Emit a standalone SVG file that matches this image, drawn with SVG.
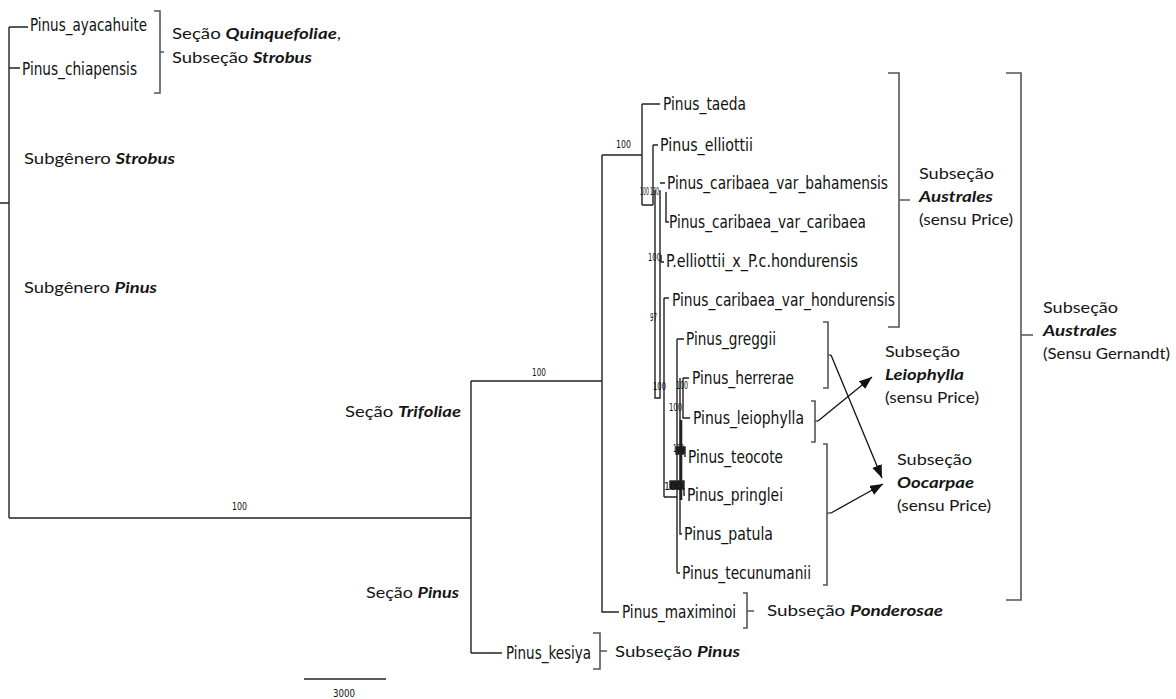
<svg xmlns="http://www.w3.org/2000/svg" width="1176" height="699" viewBox="0 0 1176 699">
<defs>
<style>
.tx{font-family:"DejaVu Sans Condensed","DejaVu Sans","Liberation Sans",sans-serif;font-stretch:condensed;font-size:17px;fill:#111}
.an{font-family:Lato,"Liberation Sans",sans-serif;font-size:16px;fill:#161616}
.bi{font-weight:bold;font-style:italic}
.bs{font-family:"DejaVu Sans Condensed","DejaVu Sans",sans-serif;font-size:10.5px;fill:#111}
.br{fill:none;stroke:#555;stroke-width:1.6}
.ln{fill:none;stroke:#222;stroke-width:1.4}
.ar{fill:none;stroke:#111;stroke-width:1.3}
</style>
<marker id="ah" markerUnits="userSpaceOnUse" markerWidth="14" markerHeight="12" refX="13" refY="5" orient="auto">
<path d="M0,0 L13,5 L0,10 Z" fill="#111"/>
</marker>
</defs>
<rect width="1176" height="699" fill="#fff"/>

<!-- tree branches -->
<g id="connectors" class="ln">
<path d="M0 203 H9 M9 27 V518 M9 27 H28 M9 68 H20 M9 518 H471"/>
<path d="M471 381 V653 M471 381 H602 M471 653 H502"/>
<path d="M602 155 V612 H619 M602 155 H642"/>
<path d="M642 104 V205 M642 104 H660 M642 205 H653"/>
<path d="M653 145 V205 M653 145 H658"/>
<path d="M655 190 V398 H660 V190 M660 183 H665 M666 192 V222 H669"/>
<path d="M661 255 V262 H664 M664 298 V497 M664 298 H669"/>
<path d="M664 497 H677 M677 339 V573 M677 339 H684 M677 573 H680"/>
<path d="M680 378 V534 H682 M683 378 H689 M683 378 V418 H690"/>
<path d="M684 456 H686 M684 488 V495 H685"/>
<path d="M681 420 V500" stroke-width="2.6"/>
<rect x="676" y="447" width="9" height="7" fill="#222"/>
<rect x="670" y="481" width="14" height="8" fill="#222"/>
</g>

<!-- bootstrap values -->
<g id="support">
<text class="bs" x="232" y="510" textLength="15" lengthAdjust="spacingAndGlyphs">100</text>
<text class="bs" x="532" y="376" textLength="14" lengthAdjust="spacingAndGlyphs">100</text>
<text class="bs" x="616" y="148" textLength="15" lengthAdjust="spacingAndGlyphs">100</text>
<text class="bs" x="640" y="195" textLength="9" lengthAdjust="spacingAndGlyphs">100</text>
<text class="bs" x="650" y="195" textLength="9" lengthAdjust="spacingAndGlyphs">100</text>
<text class="bs" x="648" y="261" textLength="13" lengthAdjust="spacingAndGlyphs">100</text>
<text class="bs" x="650" y="321" textLength="7" lengthAdjust="spacingAndGlyphs">97</text>
<text class="bs" x="653" y="390" textLength="13" lengthAdjust="spacingAndGlyphs">100</text>
<text class="bs" x="676" y="389" textLength="12" lengthAdjust="spacingAndGlyphs">100</text>
<text class="bs" x="669" y="411" textLength="13" lengthAdjust="spacingAndGlyphs">100</text>
<text class="bs" x="673" y="452" textLength="11" lengthAdjust="spacingAndGlyphs">100</text>
<text class="bs" x="664" y="490" textLength="18" lengthAdjust="spacingAndGlyphs">100</text>
</g>

<!-- taxa -->
<g id="n-ayacahuite"><text class="tx" x="30" y="31" textLength="117" lengthAdjust="spacingAndGlyphs">Pinus_ayacahuite</text></g>
<g id="n-chiapensis"><text class="tx" x="22" y="75" textLength="115" lengthAdjust="spacingAndGlyphs">Pinus_chiapensis</text></g>
<g id="n-taeda"><text class="tx" x="663" y="110" textLength="83" lengthAdjust="spacingAndGlyphs">Pinus_taeda</text></g>
<g id="n-elliottii"><text class="tx" x="660" y="151" textLength="93" lengthAdjust="spacingAndGlyphs">Pinus_elliottii</text></g>
<g id="n-bahamensis"><text class="tx" x="667" y="189" textLength="221" lengthAdjust="spacingAndGlyphs">Pinus_caribaea_var_bahamensis</text></g>
<g id="n-caribaea"><text class="tx" x="669" y="228" textLength="197" lengthAdjust="spacingAndGlyphs">Pinus_caribaea_var_caribaea</text></g>
<g id="n-hybrid"><text class="tx" x="666" y="267" textLength="192" lengthAdjust="spacingAndGlyphs">P.elliottii_x_P.c.hondurensis</text></g>
<g id="n-hondurensis"><text class="tx" x="672" y="306" textLength="223" lengthAdjust="spacingAndGlyphs">Pinus_caribaea_var_hondurensis</text></g>
<g id="n-greggii"><text class="tx" x="686" y="345" textLength="90" lengthAdjust="spacingAndGlyphs">Pinus_greggii</text></g>
<g id="n-herrerae"><text class="tx" x="692" y="384" textLength="102" lengthAdjust="spacingAndGlyphs">Pinus_herrerae</text></g>
<g id="n-leiophylla"><text class="tx" x="693" y="424" textLength="111" lengthAdjust="spacingAndGlyphs">Pinus_leiophylla</text></g>
<g id="n-teocote"><text class="tx" x="688" y="463" textLength="95" lengthAdjust="spacingAndGlyphs">Pinus_teocote</text></g>
<g id="n-pringlei"><text class="tx" x="687" y="501" textLength="96" lengthAdjust="spacingAndGlyphs">Pinus_pringlei</text></g>
<g id="n-patula"><text class="tx" x="684" y="540" textLength="89" lengthAdjust="spacingAndGlyphs">Pinus_patula</text></g>
<g id="n-tecunumanii"><text class="tx" x="682" y="579" textLength="129" lengthAdjust="spacingAndGlyphs">Pinus_tecunumanii</text></g>
<g id="n-maximinoi"><text class="tx" x="622" y="618" textLength="114" lengthAdjust="spacingAndGlyphs">Pinus_maximinoi</text></g>
<g id="n-kesiya"><text class="tx" x="506" y="659" textLength="85" lengthAdjust="spacingAndGlyphs">Pinus_kesiya</text></g>

<!-- group labels -->
<g id="g-quinquefoliae">
<path class="br" d="M154 11 H160 V93 H154 M160 52 H164"/>
<text class="an" x="172" y="39" textLength="169" lengthAdjust="spacingAndGlyphs">Seção <tspan class="bi">Quinquefoliae</tspan>,</text>
<text class="an" x="172" y="63" textLength="140" lengthAdjust="spacingAndGlyphs">Subseção <tspan class="bi">Strobus</tspan></text>
</g>
<g id="g-subg-strobus"><text class="an" x="24" y="164" textLength="151" lengthAdjust="spacingAndGlyphs">Subgênero <tspan class="bi">Strobus</tspan></text></g>
<g id="g-subg-pinus"><text class="an" x="24" y="293" textLength="133" lengthAdjust="spacingAndGlyphs">Subgênero <tspan class="bi">Pinus</tspan></text></g>
<g id="g-trifoliae"><text class="an" x="345" y="417" textLength="116" lengthAdjust="spacingAndGlyphs">Seção <tspan class="bi">Trifoliae</tspan></text></g>
<g id="g-secao-pinus"><text class="an" x="366" y="598" textLength="93" lengthAdjust="spacingAndGlyphs">Seção <tspan class="bi">Pinus</tspan></text></g>
<g id="g-ponderosae">
<path class="br" d="M743 593 H747 V628 H743 M747 611 H754"/>
<text class="an" x="767" y="616" textLength="176" lengthAdjust="spacingAndGlyphs">Subseção <tspan class="bi">Ponderosae</tspan></text>
</g>
<g id="g-subsecao-pinus">
<path class="br" d="M593 633 H600 V669 H593 M600 651 H607"/>
<text class="an" x="615" y="657" textLength="125" lengthAdjust="spacingAndGlyphs">Subseção <tspan class="bi">Pinus</tspan></text>
</g>
<g id="g-australes-price">
<path class="br" d="M888 73 H899 V327 H888 M899 200 H910"/>
<text class="an" x="919" y="179" textLength="75" lengthAdjust="spacingAndGlyphs">Subseção</text>
<text class="an bi" x="919" y="202" textLength="74" lengthAdjust="spacingAndGlyphs">Australes</text>
<text class="an" x="919" y="225" textLength="94" lengthAdjust="spacingAndGlyphs">(sensu Price)</text>
</g>
<g id="g-australes-gernandt">
<path class="br" d="M1006 73 H1021 V600 H1006 M1021 335 H1033"/>
<text class="an" x="1043" y="313" textLength="75" lengthAdjust="spacingAndGlyphs">Subseção</text>
<text class="an bi" x="1043" y="336" textLength="74" lengthAdjust="spacingAndGlyphs">Australes</text>
<text class="an" x="1043" y="359" textLength="127" lengthAdjust="spacingAndGlyphs">(Sensu Gernandt)</text>
</g>
<g id="g-leiophylla">
<path class="br" d="M823 322 H828 V388 H823 M828 355 H831"/>
<path class="br" d="M811 401 H815 V442 H811 M815 421 H818"/>
<text class="an" x="885" y="357" textLength="75" lengthAdjust="spacingAndGlyphs">Subseção</text>
<text class="an bi" x="885" y="380" textLength="79" lengthAdjust="spacingAndGlyphs">Leiophylla</text>
<text class="an" x="885" y="403" textLength="94" lengthAdjust="spacingAndGlyphs">(sensu Price)</text>
</g>
<g id="g-oocarpae">
<path class="br" d="M823 444 H827 V585 H823 M827 513 H831"/>
<text class="an" x="897" y="465" textLength="75" lengthAdjust="spacingAndGlyphs">Subseção</text>
<text class="an bi" x="897" y="488" textLength="77" lengthAdjust="spacingAndGlyphs">Oocarpae</text>
<text class="an" x="897" y="511" textLength="94" lengthAdjust="spacingAndGlyphs">(sensu Price)</text>
</g>

<!-- reassignment arrows -->
<g id="arrows" class="ar">
<line x1="831" y1="355" x2="882" y2="478" marker-end="url(#ah)"/>
<line x1="818" y1="421" x2="872" y2="377" marker-end="url(#ah)"/>
<line x1="831" y1="513" x2="883" y2="484" marker-end="url(#ah)"/>
</g>

<!-- scale bar -->
<g id="scale">
<path class="ln" d="M304 679 H386"/>
<text class="bs" x="333" y="697" textLength="22" lengthAdjust="spacingAndGlyphs">3000</text>
</g>
</svg>
